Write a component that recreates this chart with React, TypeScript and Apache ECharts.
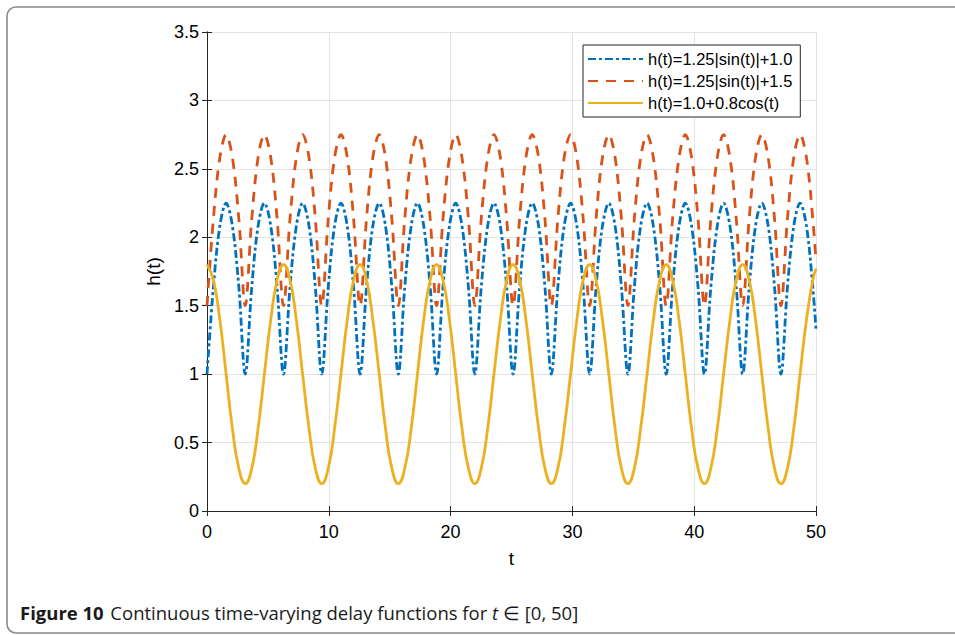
import React, { useEffect, useRef } from "react";
import * as echarts from "echarts";

// t sample positions (read along the x axis)
const tValues = [
  0, 0.52, 1.05, 1.57, 2.09, 2.62, 3.14, 3.67, 4.19, 4.71, 5.24, 5.76,
  6.28, 6.81, 7.33, 7.85, 8.38, 8.9, 9.42, 9.95, 10.47, 11.0, 11.52, 12.04,
  12.57, 13.09, 13.61, 14.14, 14.66, 15.18, 15.71, 16.23, 16.76, 17.28, 17.8, 18.33,
  18.85, 19.37, 19.9, 20.42, 20.94, 21.47, 21.99, 22.51, 23.04, 23.56, 24.09, 24.61,
  25.13, 25.66, 26.18, 26.7, 27.23, 27.75, 28.27, 28.8, 29.32, 29.85, 30.37, 30.89,
  31.42, 31.94, 32.46, 32.99, 33.51, 34.03, 34.56, 35.08, 35.6, 36.13, 36.65, 37.18,
  37.7, 38.22, 38.75, 39.27, 39.79, 40.32, 40.84, 41.36, 41.89, 42.41, 42.94, 43.46,
  43.98, 44.51, 45.03, 45.55, 46.08, 46.6, 47.12, 47.65, 48.17, 48.69, 49.22, 49.74,
  50,
];

// h(t)=1.25|sin(t)|+1.0
const blueValues = [
  1, 1.63, 2.08, 2.25, 2.08, 1.63, 1, 1.63, 2.08, 2.25, 2.08, 1.63,
  1, 1.63, 2.08, 2.25, 2.08, 1.63, 1, 1.63, 2.08, 2.25, 2.08, 1.63,
  1, 1.63, 2.08, 2.25, 2.08, 1.63, 1, 1.63, 2.08, 2.25, 2.08, 1.63,
  1, 1.63, 2.08, 2.25, 2.08, 1.63, 1, 1.63, 2.08, 2.25, 2.08, 1.63,
  1, 1.63, 2.08, 2.25, 2.08, 1.63, 1, 1.63, 2.08, 2.25, 2.08, 1.63,
  1, 1.63, 2.08, 2.25, 2.08, 1.63, 1, 1.63, 2.08, 2.25, 2.08, 1.63,
  1, 1.63, 2.08, 2.25, 2.08, 1.63, 1, 1.63, 2.08, 2.25, 2.08, 1.63,
  1, 1.63, 2.08, 2.25, 2.08, 1.63, 1, 1.63, 2.08, 2.25, 2.08, 1.63,
  1.33,
];

// h(t)=1.25|sin(t)|+1.5
const redValues = [
  1.5, 2.13, 2.58, 2.75, 2.58, 2.13, 1.5, 2.13, 2.58, 2.75, 2.58, 2.13,
  1.5, 2.13, 2.58, 2.75, 2.58, 2.13, 1.5, 2.13, 2.58, 2.75, 2.58, 2.13,
  1.5, 2.13, 2.58, 2.75, 2.58, 2.13, 1.5, 2.13, 2.58, 2.75, 2.58, 2.13,
  1.5, 2.13, 2.58, 2.75, 2.58, 2.13, 1.5, 2.13, 2.58, 2.75, 2.58, 2.13,
  1.5, 2.13, 2.58, 2.75, 2.58, 2.13, 1.5, 2.13, 2.58, 2.75, 2.58, 2.13,
  1.5, 2.13, 2.58, 2.75, 2.58, 2.13, 1.5, 2.13, 2.58, 2.75, 2.58, 2.13,
  1.5, 2.13, 2.58, 2.75, 2.58, 2.13, 1.5, 2.13, 2.58, 2.75, 2.58, 2.13,
  1.5, 2.13, 2.58, 2.75, 2.58, 2.13, 1.5, 2.13, 2.58, 2.75, 2.58, 2.13,
  1.83,
];

// h(t)=1.0+0.8cos(t)
const yellowValues = [
  1.8, 1.69, 1.4, 1, 0.6, 0.31, 0.2, 0.31, 0.6, 1, 1.4, 1.69,
  1.8, 1.69, 1.4, 1, 0.6, 0.31, 0.2, 0.31, 0.6, 1, 1.4, 1.69,
  1.8, 1.69, 1.4, 1, 0.6, 0.31, 0.2, 0.31, 0.6, 1, 1.4, 1.69,
  1.8, 1.69, 1.4, 1, 0.6, 0.31, 0.2, 0.31, 0.6, 1, 1.4, 1.69,
  1.8, 1.69, 1.4, 1, 0.6, 0.31, 0.2, 0.31, 0.6, 1, 1.4, 1.69,
  1.8, 1.69, 1.4, 1, 0.6, 0.31, 0.2, 0.31, 0.6, 1, 1.4, 1.69,
  1.8, 1.69, 1.4, 1, 0.6, 0.31, 0.2, 0.31, 0.6, 1, 1.4, 1.69,
  1.8, 1.69, 1.4, 1, 0.6, 0.31, 0.2, 0.31, 0.6, 1, 1.4, 1.69,
  1.77,
];

const seriesNames = [
  "h(t)=1.25|sin(t)|+1.0",
  "h(t)=1.25|sin(t)|+1.5",
  "h(t)=1.0+0.8cos(t)",
];

const FONT = "Liberation Sans, Arial, Helvetica, sans-serif";
const CAPTION_FONT = "Open Sans, Noto Sans, sans-serif";
const AXIS_COLOR = "#262626";

export default function App() {
  const ref = useRef<HTMLDivElement>(null);

  useEffect(() => {
    if (!ref.current) return;
    const chart = echarts.init(ref.current, null, { renderer: "svg" });

    const pair = (vals: number[]) => tValues.map((t, i) => [t, vals[i]]);

    const hiddenAxisCommon = {
      axisLine: { show: true, lineStyle: { color: AXIS_COLOR, width: 1 } },
      axisTick: { show: true, inside: true, length: 5, lineStyle: { color: AXIS_COLOR } },
      axisLabel: { show: false },
      splitLine: { show: false },
    };

    chart.setOption({
      animation: false,
      backgroundColor: "#ffffff",
      grid: { left: 207, top: 32, right: 139, bottom: 124, containLabel: false },
      legend: {
        orient: "vertical",
        left: 583,
        top: 45,
        backgroundColor: "#ffffff",
        borderColor: "#262626",
        borderWidth: 1,
        borderRadius: 0,
        padding: [5, 8, 5, 4],
        itemWidth: 55,
        itemHeight: 14,
        itemGap: 4,
        itemStyle: { opacity: 0 },
        textStyle: { fontFamily: FONT, fontSize: 16.5, color: "#000", lineHeight: 18 },
        data: seriesNames,
      },
      xAxis: [
        {
          type: "value",
          min: 0,
          max: 50,
          interval: 10,
          position: "bottom",
          name: "t",
          nameLocation: "middle",
          nameGap: 38,
          nameTextStyle: { fontFamily: FONT, fontSize: 19, color: "#000" },
          axisLine: { show: true, onZero: false, lineStyle: { color: AXIS_COLOR, width: 1 } },
          axisTick: { show: true, inside: true, length: 5, lineStyle: { color: AXIS_COLOR } },
          axisLabel: { fontFamily: FONT, fontSize: 18, color: "#000", margin: 12 },
          splitLine: { show: true, lineStyle: { color: "#e3e3e3", width: 1 } },
        },
        {
          type: "value",
          min: 0,
          max: 50,
          interval: 10,
          position: "top",
          ...hiddenAxisCommon,
        },
      ],
      yAxis: [
        {
          type: "value",
          min: 0,
          max: 3.5,
          interval: 0.5,
          position: "left",
          name: "h(t)",
          nameLocation: "middle",
          nameGap: 42,
          nameTextStyle: { fontFamily: FONT, fontSize: 19, color: "#000" },
          axisLine: { show: true, onZero: false, lineStyle: { color: AXIS_COLOR, width: 1 } },
          axisTick: { show: true, inside: true, length: 5, lineStyle: { color: AXIS_COLOR } },
          axisLabel: { fontFamily: FONT, fontSize: 18, color: "#000", margin: 8 },
          splitLine: { show: true, lineStyle: { color: "#e3e3e3", width: 1 } },
        },
        {
          type: "value",
          min: 0,
          max: 3.5,
          interval: 0.5,
          position: "right",
          ...hiddenAxisCommon,
        },
      ],
      series: [
        {
          name: seriesNames[0],
          type: "line",
          xAxisIndex: 0,
          yAxisIndex: 0,
          data: pair(blueValues),
          symbol: "none",
          smooth: 0.35,
          lineStyle: { color: "#0072BD", width: 2.8, type: [8, 3, 3, 3] },
          itemStyle: { color: "#0072BD" },
          z: 3,
        },
        {
          name: seriesNames[1],
          type: "line",
          xAxisIndex: 0,
          yAxisIndex: 0,
          data: pair(redValues),
          symbol: "none",
          smooth: 0.35,
          lineStyle: { color: "#D95319", width: 2.8, type: [10, 8] },
          itemStyle: { color: "#D95319" },
          z: 4,
        },
        {
          name: seriesNames[2],
          type: "line",
          xAxisIndex: 0,
          yAxisIndex: 0,
          data: pair(yellowValues),
          symbol: "none",
          smooth: 0.5,
          lineStyle: { color: "#EDB120", width: 2.8, type: "solid" },
          itemStyle: { color: "#EDB120" },
          z: 5,
        },
      ],
      graphic: [
        {
          type: "rect",
          silent: true,
          z: -10,
          shape: { x: 7, y: 7, width: 1000, height: 626, r: 9 },
          style: { fill: "none", stroke: "#8a8a8a", lineWidth: 1.6 },
        },
        {
          type: "text",
          left: 20,
          top: 603,
          silent: true,
          style: {
            text: "{b|Figure 10}  {n|Continuous time-varying delay functions for }{i|t}{n| ∈ [0, 50]}",
            rich: {
              b: { fontFamily: CAPTION_FONT, fontWeight: "bold", fontSize: 18.5, fill: "#1a1a1a" },
              n: { fontFamily: CAPTION_FONT, fontSize: 18.5, fill: "#1a1a1a" },
              i: { fontFamily: CAPTION_FONT, fontStyle: "italic", fontSize: 18.5, fill: "#1a1a1a" },
            },
          },
        },
      ],
    });

    return () => chart.dispose();
  }, []);

  return (
    <div
      ref={ref}
      style={{ position: "absolute", left: 0, top: 0, width: 955, height: 635 }}
    />
  );
}
